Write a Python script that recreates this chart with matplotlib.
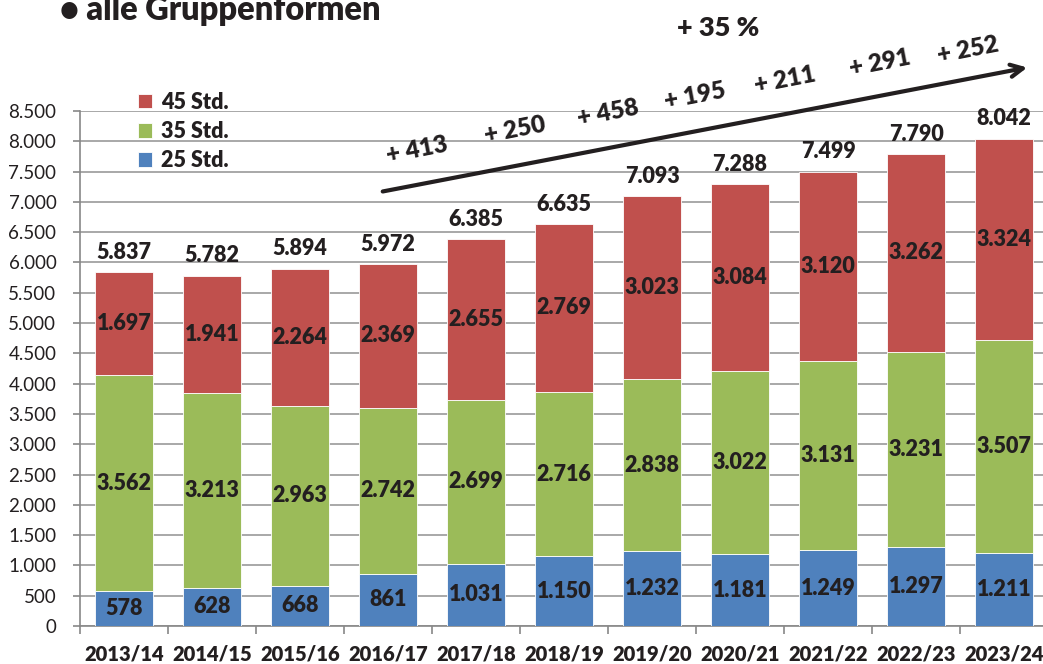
import matplotlib.pyplot as plt
from matplotlib.ticker import FuncFormatter
import numpy as np

plt.rcParams['font.family'] = ['Lato', 'DejaVu Sans']

years = ["2013/14", "2014/15", "2015/16", "2016/17", "2017/18", "2018/19",
         "2019/20", "2020/21", "2021/22", "2022/23", "2023/24"]
std25 = [578, 628, 668, 861, 1031, 1150, 1232, 1181, 1249, 1297, 1211]
std35 = [3562, 3213, 2963, 2742, 2699, 2716, 2838, 3022, 3131, 3231, 3507]
std45 = [1697, 1941, 2264, 2369, 2655, 2769, 3023, 3084, 3120, 3262, 3324]
totals = [5837, 5782, 5894, 5972, 6385, 6635, 7093, 7288, 7499, 7790, 8042]

RED = "#C0504D"
GREEN = "#9BBB59"
BLUE = "#4F81BD"
TXT = "#231F20"
BOLD = "heavy"


def de_num(v):
    return f"{int(v):,}".replace(",", ".")


fig = plt.figure(figsize=(10.43, 6.64), dpi=100)
ax = fig.add_axes([80 / 1043, 38 / 664, 968 / 1043, 515 / 664])

x = np.arange(len(years))
w = 0.66
b1 = np.array(std25)
b2 = b1 + np.array(std35)
ax.bar(x, std25, w, color=BLUE, edgecolor="white", linewidth=0.6, label="25 Std.", zorder=3)
ax.bar(x, std35, w, bottom=b1, color=GREEN, edgecolor="white", linewidth=0.6, label="35 Std.", zorder=3)
ax.bar(x, std45, w, bottom=b2, color=RED, edgecolor="white", linewidth=0.6, label="45 Std.", zorder=3)

for i in range(len(years)):
    ax.text(x[i], std25[i] / 2, de_num(std25[i]), ha="center", va="center",
            fontsize=15.5, fontweight=BOLD, color=TXT, zorder=4)
    ax.text(x[i], b1[i] + std35[i] / 2, de_num(std35[i]), ha="center", va="center",
            fontsize=15.5, fontweight=BOLD, color=TXT, zorder=4)
    ax.text(x[i], b2[i] + std45[i] / 2, de_num(std45[i]), ha="center", va="center",
            fontsize=15.5, fontweight=BOLD, color=TXT, zorder=4)
    ax.text(x[i], totals[i] + 330, de_num(totals[i]), ha="center", va="center",
            fontsize=15.5, fontweight=BOLD, color=TXT, zorder=4)

ax.set_xlim(-0.5, len(years) - 0.5)
ax.set_ylim(0, 8500)
ax.set_yticks(np.arange(0, 8501, 500))
ax.yaxis.set_major_formatter(FuncFormatter(lambda v, p: de_num(v)))
ax.set_xticks(x)
ax.set_xticklabels(years, fontsize=14.5, fontweight=BOLD, color=TXT)
ax.set_xticks(np.arange(-0.5, len(years)), minor=True)
ax.tick_params(axis="x", which="major", length=0, pad=13)
ax.tick_params(axis="x", which="minor", length=6, color="#888888", width=1.2)
ax.tick_params(axis="y", length=5, color="#888888", width=1.2, labelsize=13.5,
               labelcolor=TXT, pad=12)
ax.grid(axis="y", color="#999999", linewidth=1.2, zorder=0)
for s in ["top", "right"]:
    ax.spines[s].set_visible(False)
ax.spines["left"].set_color("#888888")
ax.spines["bottom"].set_color("#888888")
ax.spines["left"].set_linewidth(1.2)
ax.spines["bottom"].set_linewidth(1.2)

h, l = ax.get_legend_handles_labels()
leg = ax.legend(h[::-1], l[::-1], loc="upper left", bbox_to_anchor=(0.04, 1.075),
                frameon=False, handlelength=0.65, handleheight=0.65, handletextpad=0.4,
                labelspacing=0.38, prop={"weight": BOLD, "size": 15.5})
for t in leg.get_texts():
    t.set_color(TXT)

# growth arrow and yearly increments
ax.annotate("", xy=(1030 / 1043, 1 - 67 / 664), xycoords="figure fraction",
            xytext=(380 / 1043, 1 - 192 / 664), textcoords="figure fraction",
            arrowprops=dict(arrowstyle="->", color=TXT, lw=3, mutation_scale=22))
inc_pos = [(417, 150), (515, 130), (608, 113), (695, 96), (785, 80), (880, 63), (968, 50)]
for k, (px, py) in enumerate(inc_pos):
    d = totals[k + 4] - totals[k + 3]
    fig.text(px / 1043, 1 - py / 664, f"+ {d}", ha="center", va="center",
             rotation=11, fontsize=17.5, fontweight=BOLD, color=TXT)

pct = round((totals[-1] / totals[3] - 1) * 100)
fig.text(718 / 1043, 1 - 28 / 664, f"+ {pct} %", ha="center", va="center",
         fontsize=19.5, fontweight=BOLD, color=TXT)

fig.text(60 / 1043, 1 - 10 / 664, "\u2022 alle Gruppenformen", ha="left", va="center",
         fontsize=23.5, fontweight=BOLD, color=TXT)

fig.savefig("out.png", dpi=100)
